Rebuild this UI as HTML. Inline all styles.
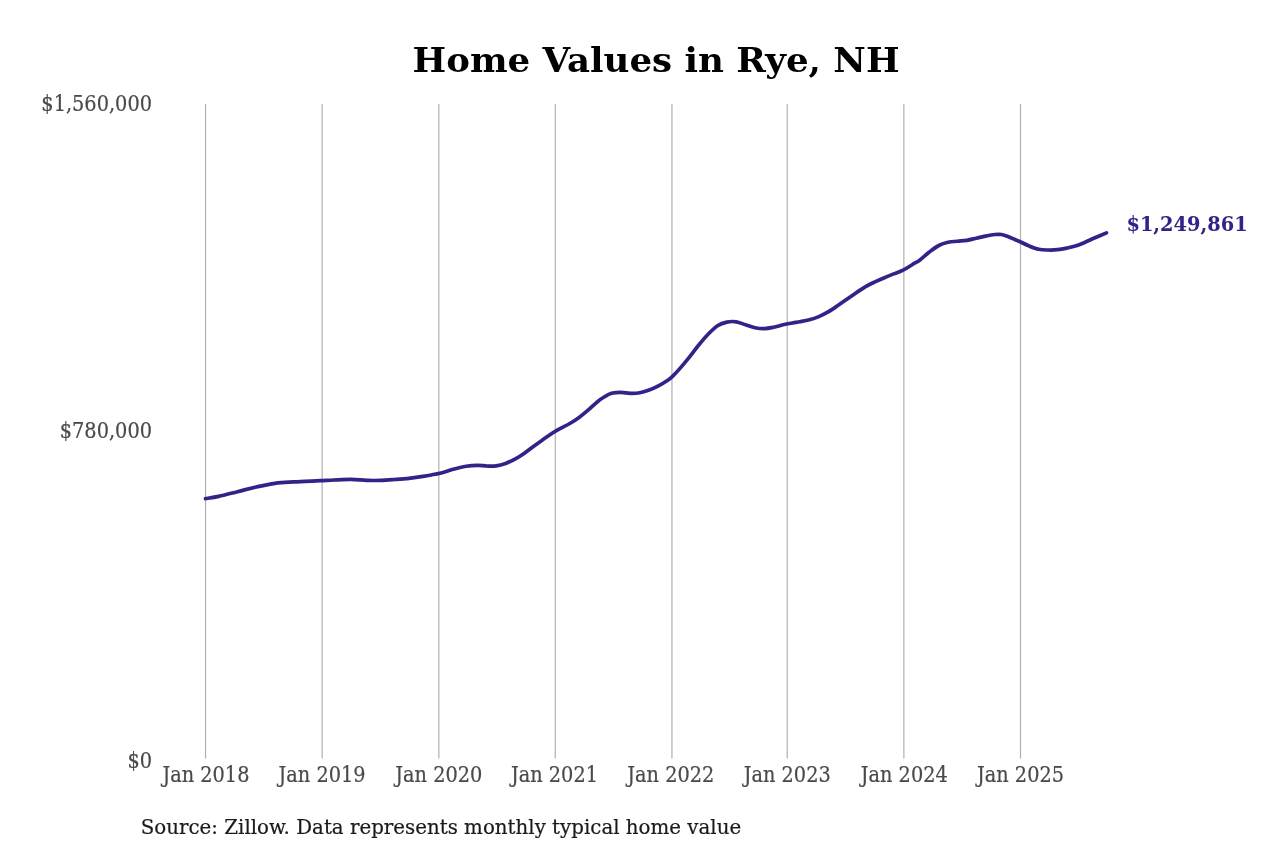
<!DOCTYPE html>
<html lang="en">
<head>
<meta charset="utf-8">
<title>Home Values in Rye, NH</title>
<style>
html,body{margin:0;padding:0;background:#fff;}
body{width:1280px;height:853px;overflow:hidden;font-family:"DejaVu Serif","Liberation Serif",serif;}
svg{display:block;}
text{font-family:"DejaVu Serif","Liberation Serif",serif;}
.tick{font-size:21.5px;fill:#4a4a4a;stroke:#4a4a4a;stroke-width:0.22px;}
.title{font-size:33.6px;font-weight:bold;fill:#000;}
.end{font-size:20.3px;font-weight:bold;fill:#332288;}
.src{font-size:20.5px;fill:#1a1a1a;stroke:#1a1a1a;stroke-width:0.2px;}
</style>
</head>
<body>
<svg width="1280" height="853" viewBox="0 0 1280 853">
<rect width="1280" height="853" fill="#ffffff"/>
<text class="title" text-anchor="middle" transform="translate(656 72.4) scale(1.0596 1)">Home Values in Rye, NH</text>
<g stroke="#b0b0b0" stroke-width="1.19">
<line x1="205.55" y1="104" x2="205.55" y2="758.5"/>
<line x1="322.12" y1="104" x2="322.12" y2="758.5"/>
<line x1="438.83" y1="104" x2="438.83" y2="758.5"/>
<line x1="555.29" y1="104" x2="555.29" y2="758.5"/>
<line x1="671.94" y1="104" x2="671.94" y2="758.5"/>
<line x1="787.21" y1="104" x2="787.21" y2="758.5"/>
<line x1="903.87" y1="104" x2="903.87" y2="758.5"/>
<line x1="1020.5" y1="104" x2="1020.5" y2="758.5"/>
</g>
<text class="tick" text-anchor="end" transform="translate(152.0 110.7) scale(0.899 1)">$1,560,000</text>
<text class="tick" text-anchor="end" transform="translate(152.0 438.3) scale(0.899 1)">$780,000</text>
<text class="tick" text-anchor="end" transform="translate(152.0 767.6) scale(0.899 1)">$0</text>
<text class="tick" text-anchor="middle" transform="translate(205.95 781.9) scale(0.899 1)">Jan 2018</text>
<text class="tick" text-anchor="middle" transform="translate(322.12 781.9) scale(0.899 1)">Jan 2019</text>
<text class="tick" text-anchor="middle" transform="translate(438.83 781.9) scale(0.899 1)">Jan 2020</text>
<text class="tick" text-anchor="middle" transform="translate(554.49 781.9) scale(0.899 1)">Jan 2021</text>
<text class="tick" text-anchor="middle" transform="translate(670.84 781.9) scale(0.899 1)">Jan 2022</text>
<text class="tick" text-anchor="middle" transform="translate(787.21 781.9) scale(0.899 1)">Jan 2023</text>
<text class="tick" text-anchor="middle" transform="translate(904.27 781.9) scale(0.899 1)">Jan 2024</text>
<text class="tick" text-anchor="middle" transform="translate(1020.5 781.9) scale(0.899 1)">Jan 2025</text>
<path d="M205.50 498.60C207.71 498.23 213.42 497.55 218.75 496.40C224.08 495.25 231.25 493.27 237.50 491.70C243.75 490.13 250.00 488.40 256.25 487.00C262.50 485.60 268.75 484.15 275.00 483.30C281.25 482.45 286.25 482.33 293.75 481.90C301.25 481.47 313.29 481.02 320.00 480.70C326.71 480.38 328.83 480.21 334.00 480.00C339.17 479.79 345.52 479.38 351.00 479.45C356.48 479.52 361.90 480.24 366.90 480.40C371.90 480.56 376.32 480.55 381.00 480.40C385.68 480.25 390.33 479.85 395.00 479.50C399.67 479.15 404.33 478.82 409.00 478.30C413.67 477.78 417.83 477.23 423.00 476.40C428.17 475.57 435.13 474.45 440.00 473.30C444.87 472.15 447.82 470.68 452.20 469.50C456.57 468.32 462.03 466.95 466.25 466.25C470.47 465.55 474.06 465.34 477.50 465.30C480.94 465.26 483.77 465.92 486.90 466.00C490.02 466.08 493.13 466.23 496.25 465.80C499.37 465.37 502.48 464.50 505.60 463.40C508.73 462.30 511.87 460.88 515.00 459.20C518.13 457.52 521.27 455.47 524.40 453.30C527.52 451.13 530.63 448.48 533.75 446.20C536.87 443.92 539.98 441.80 543.10 439.60C546.23 437.40 549.68 434.83 552.50 433.00C555.32 431.17 557.18 430.14 560.00 428.60C562.82 427.06 566.27 425.57 569.40 423.75C572.52 421.93 575.63 419.96 578.75 417.70C581.87 415.44 584.98 412.87 588.10 410.20C591.23 407.53 594.83 403.90 597.50 401.70C600.17 399.50 601.75 398.40 604.10 397.00C606.45 395.60 608.80 394.08 611.60 393.30C614.40 392.52 617.78 392.30 620.90 392.30C624.02 392.30 627.17 393.22 630.30 393.30C633.43 393.38 636.57 393.35 639.70 392.80C642.83 392.25 645.98 391.17 649.10 390.00C652.22 388.83 655.28 387.43 658.40 385.80C661.52 384.17 665.45 381.77 667.80 380.20C670.15 378.63 670.47 378.37 672.50 376.40C674.53 374.43 677.18 371.60 680.00 368.40C682.82 365.20 686.27 361.10 689.40 357.20C692.52 353.30 695.63 348.83 698.75 345.00C701.87 341.17 704.98 337.42 708.10 334.20C711.23 330.98 714.37 327.72 717.50 325.70C720.63 323.68 723.77 322.75 726.90 322.10C730.02 321.45 733.13 321.35 736.25 321.80C739.37 322.25 742.48 323.82 745.60 324.80C748.73 325.78 751.87 327.07 755.00 327.70C758.13 328.33 761.27 328.68 764.40 328.60C767.52 328.52 770.63 327.83 773.75 327.20C776.87 326.57 779.98 325.50 783.10 324.80C786.23 324.10 789.68 323.51 792.50 323.00C795.32 322.49 797.18 322.28 800.00 321.75C802.82 321.22 806.27 320.66 809.40 319.80C812.52 318.94 815.63 317.92 818.75 316.60C821.87 315.28 824.98 313.70 828.10 311.90C831.23 310.10 834.37 307.92 837.50 305.80C840.63 303.68 843.77 301.38 846.90 299.20C850.02 297.02 853.13 294.80 856.25 292.70C859.37 290.60 862.48 288.40 865.60 286.60C868.73 284.80 871.87 283.38 875.00 281.90C878.13 280.42 881.27 279.03 884.40 277.70C887.52 276.37 890.63 275.15 893.75 273.90C896.87 272.65 899.98 271.77 903.10 270.20C906.23 268.63 909.68 266.22 912.50 264.50C915.32 262.78 917.18 261.98 920.00 259.90C922.82 257.82 926.27 254.40 929.40 252.00C932.52 249.60 935.63 247.13 938.75 245.50C941.87 243.87 944.98 242.91 948.10 242.20C951.23 241.49 954.37 241.57 957.50 241.25C960.63 240.93 963.77 240.80 966.90 240.30C970.02 239.80 973.13 238.95 976.25 238.25C979.37 237.55 982.48 236.72 985.60 236.10C988.73 235.47 992.33 234.77 995.00 234.50C997.67 234.23 999.25 234.08 1001.60 234.50C1003.95 234.92 1006.30 235.92 1009.10 237.00C1011.90 238.08 1015.02 239.48 1018.40 241.00C1021.78 242.52 1026.01 244.72 1029.40 246.10C1032.79 247.48 1035.63 248.65 1038.75 249.30C1041.87 249.95 1044.97 249.93 1048.10 250.00C1051.22 250.07 1054.37 250.02 1057.50 249.70C1060.63 249.38 1063.78 248.75 1066.90 248.10C1070.03 247.45 1073.13 246.82 1076.25 245.80C1079.37 244.78 1082.47 243.33 1085.60 242.00C1088.72 240.67 1091.52 239.32 1095.00 237.80C1098.48 236.28 1104.58 233.72 1106.50 232.90" fill="none" stroke="#332288" stroke-width="3.7" stroke-linecap="round" stroke-linejoin="round"/>
<text class="end" transform="translate(1126.4 231.1) scale(0.955 1)">$1,249,861</text>
<text class="src" transform="translate(140.75 834.25) scale(0.9667 1)">Source: Zillow. Data represents monthly typical home value</text>
</svg>
</body>
</html>
